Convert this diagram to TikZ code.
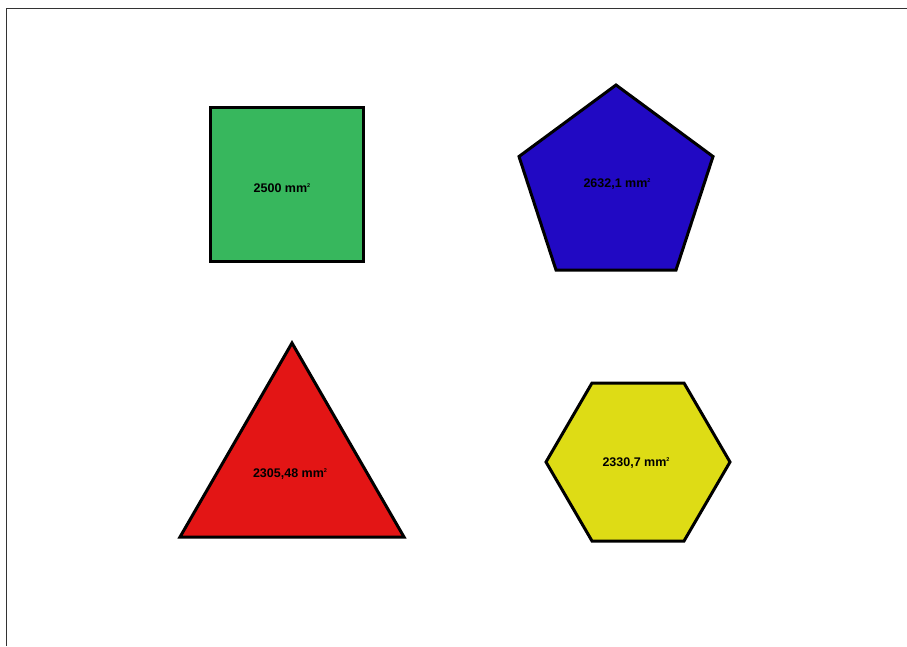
\documentclass[tikz,border=0pt]{standalone}
\usepackage{fontspec}
\setmainfont{Liberation Sans}
\definecolor{sqgreen}{HTML}{37B75D}
\definecolor{pentblue}{HTML}{2109C3}
\definecolor{trired}{HTML}{E31515}
\definecolor{hexyellow}{HTML}{DEDC15}
\definecolor{frame}{HTML}{333333}
\newcommand{\sqmm}{mm\raisebox{4.5pt}{\fontsize{5.5}{6}\selectfont 2}}
\begin{document}
\begin{tikzpicture}[x=1pt,y=-1pt,
  shapeline/.style={draw=black,line width=3pt,line join=miter},
  area/.style={font=\fontsize{12.5}{14}\selectfont\bfseries,text=black,inner sep=0pt}]
\useasboundingbox (0,0) rectangle (907,646);
\draw[frame,line width=1.5pt] (6.5,646) -- (6.5,8.5) -- (907,8.5);
% square
\draw[shapeline,fill=sqgreen] (210.5,107.5) rectangle (363.5,261.5);
\node[area] (sq) at (282,188) {2500 \sqmm};
% pentagon
\draw[shapeline,fill=pentblue] (616,85) -- (713,156.5) -- (676,270) -- (556,270) -- (519,156.5) -- cycle;
\node[area] (pe) at (617,184) {2632,1 \sqmm};
% triangle
\draw[shapeline,fill=trired] (292,343) -- (404,537) -- (180,537) -- cycle;
\node[area] (tr) at (290,474) {2305,48 \sqmm};
% hexagon
\draw[shapeline,fill=hexyellow] (592,383) -- (684,383) -- (730,462) -- (684,541) -- (592,541) -- (546,462) -- cycle;
\node[area] (hx) at (636,463) {2330,7 \sqmm};
\end{tikzpicture}
\end{document}
